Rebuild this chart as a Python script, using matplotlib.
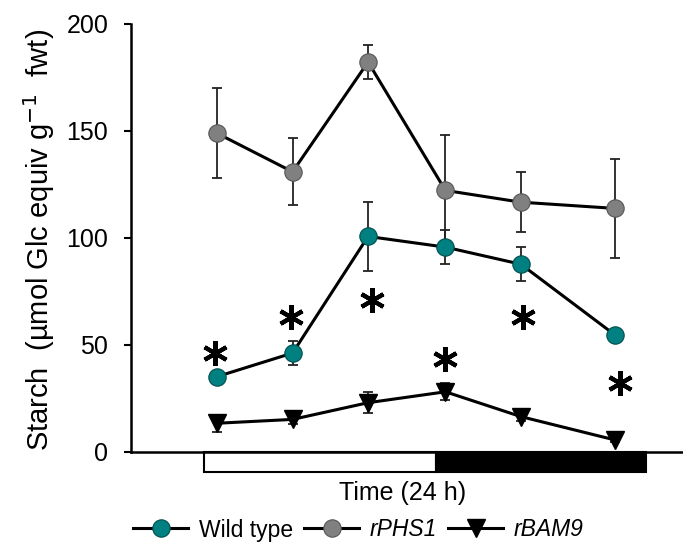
import matplotlib
matplotlib.use("Agg")
import matplotlib.pyplot as plt
from matplotlib.patches import Rectangle
from matplotlib.lines import Line2D

plt.rcParams['font.family'] = ['Liberation Sans', 'DejaVu Sans']

# Sampling times (h) over a 24 h light/dark cycle
time_h = [0.7, 4.8, 8.9, 13.1, 17.2, 22.3]
light_end = 12.6
cycle_end = 24.0

# Starch content (µmol Glc equiv g-1 fwt) and standard errors
wt = [35, 46, 100.5, 95.5, 87.5, 54.5]
wt_err = [0, 5.5, 16, 8, 8, 0]
phs1 = [148.7, 130.7, 182, 122, 116.5, 113.6]
phs1_err = [21, 15.7, 7.8, 26, 14, 23]
bam9 = [13.2, 15, 22.8, 27.9, 16.3, 5.4]
bam9_err = [4, 2, 5, 4, 2, 1]

# Significance markers (x in h, y in data units)
star_x = [0.6, 4.7, 9.1, 13.1, 17.3, 22.6]
star_y = [46, 62.7, 70.8, 43.1, 62.7, 32]

teal = '#008080'
grey = '#808080'

fig = plt.figure(figsize=(6.83, 5.44), dpi=100)
ax = fig.add_axes([130.5 / 683, 1 - 451.5 / 544, 1 - 130.5 / 683, 428 / 544])

err_kw = dict(elinewidth=1.3, capsize=3.6, capthick=1.3, ecolor='#222222')

ax.errorbar(time_h, phs1, yerr=phs1_err, fmt='none', zorder=2, **err_kw)
ax.plot(time_h, phs1, '-o', color='black', lw=2.2, marker='o', ms=12.5,
        mfc=grey, mec='#555555', mew=0.8, zorder=3, label='rPHS1')

ax.errorbar(time_h, wt, yerr=wt_err, fmt='none', zorder=4, **err_kw)
ax.plot(time_h, wt, '-', color='black', lw=2.2, marker='o', ms=12.5,
        mfc=teal, mec='#004c4c', mew=0.8, zorder=5, label='Wild type')

ax.errorbar(time_h, bam9, yerr=bam9_err, fmt='none', zorder=6, **err_kw)
ax.plot(time_h, bam9, '-', color='black', lw=2.2, marker='v', ms=12.5,
        mfc='black', mec='black', zorder=7, label='rBAM9')

ax.plot(star_x, star_y, linestyle='none', marker=(6, 2, 0), ms=18,
        mew=3.0, color='black', zorder=8)

# Light / dark bar under the axis
bar_h = 9.4
ax.add_patch(Rectangle((0, -bar_h), light_end, bar_h, facecolor='white',
                       edgecolor='black', lw=1.5, clip_on=False, zorder=1))
ax.add_patch(Rectangle((light_end, -bar_h), cycle_end - light_end, bar_h,
                       facecolor='black', edgecolor='black', lw=1.5,
                       clip_on=False, zorder=1))

ax.set_xlim(-4.0, 26.0)
ax.set_ylim(0, 200)
ax.set_yticks([0, 50, 100, 150, 200])
ax.set_xticks([])
ax.tick_params(axis='y', direction='out', length=5, width=1.5, pad=11,
               labelsize=18)
for s in ('top', 'right'):
    ax.spines[s].set_visible(False)
for s in ('left', 'bottom'):
    ax.spines[s].set_linewidth(1.8)
ax.patch.set_visible(False)

ax.set_ylabel('Starch  (µmol Glc equiv g$^{-1}$  fwt)', fontsize=21)
ax.yaxis.set_label_coords(-0.133, 0.494)

fig.text(403 / 683, 1 - 493 / 544, 'Time (24 h)', fontsize=18,
         ha='center', va='center')

handles = [
    Line2D([], [], color='black', lw=2.2, marker='o', ms=12.5, mfc=teal, mec='#004c4c', mew=0.8),
    Line2D([], [], color='black', lw=2.2, marker='o', ms=12.5, mfc=grey, mec='#555555', mew=0.8),
    Line2D([], [], color='black', lw=2.2, marker='v', ms=12.5, mfc='black', mec='black'),
]
leg = fig.legend(handles, ['Wild type', 'rPHS1', 'rBAM9'], loc='center',
                 bbox_to_anchor=(358.5 / 683, 1 - 530 / 544), ncol=3,
                 frameon=False, fontsize=16.5, handlelength=2.4,
                 handletextpad=0.45, columnspacing=0.5, borderpad=0)
for t in leg.get_texts()[1:]:
    t.set_fontstyle('italic')

fig.savefig('out.png', dpi=100)
